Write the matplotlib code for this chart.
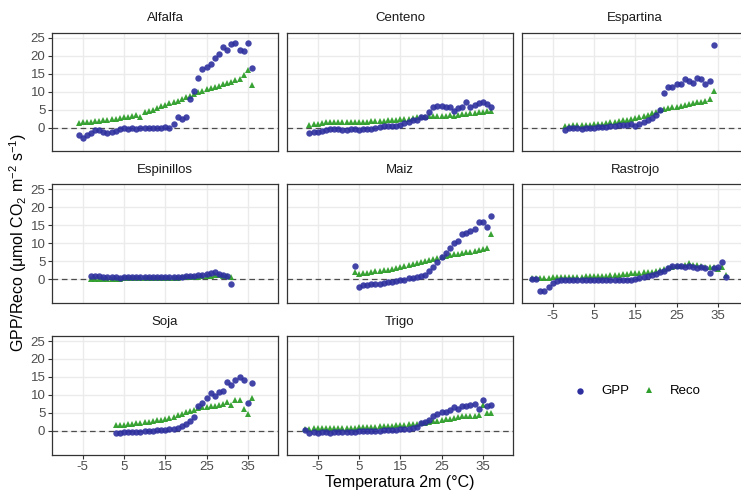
import matplotlib
matplotlib.use('Agg')
import matplotlib.pyplot as plt
from matplotlib.lines import Line2D

plt.rcParams['font.family'] = ['Liberation Sans', 'DejaVu Sans']
plt.rcParams['mathtext.fontset'] = 'custom'
plt.rcParams['mathtext.rm'] = 'Liberation Sans'
plt.rcParams['mathtext.it'] = 'Liberation Sans:italic'
plt.rcParams['axes.unicode_minus'] = False

# ---------------- data (temperature bins are integer degrees) ----------------
alfalfa_t0 = -6
alfalfa_gpp = [-2.1, -2.8, -2.1, -1.4, -0.7, -0.6, -1.2, -1.5, -1.2, -1.0, -0.5, 0.0, -0.3, -0.1, -0.3,
               0.0, 0.0, 0.0, 0.0, 0.0, 0.0, 0.1, 0.0, 0.9, 3.0, 2.3, 3.0, 7.9, 10.2, 13.8, 16.3, 16.9,
               17.6, 19.3, 20.4, 22.5, 21.6, 23.3, 23.4, 21.6, 21.3, 23.4, 16.7]
alfalfa_reco = [1.3, 1.4, 1.5, 1.6, 1.7, 1.8, 2.0, 2.1, 2.3, 2.4, 2.6, 2.8, 3.0, 3.2, 3.4, 2.9,
                4.2, 4.6, 5.0, 5.5, 5.9, 6.3, 6.7, 7.1, 7.5, 8.0, 8.5, 8.9, 9.4, 9.8, 10.2, 10.6,
                11.0, 11.3, 11.6, 12.0, 12.4, 12.7, 13.1, 13.5, 14.7, 16.0, 11.8]

centeno_t0 = -7
centeno_gpp = [-1.4, -1.3, -1.2, -1.0, -0.6, -0.5, -0.5,
               -0.5, -0.6, -0.6, -0.5, -0.5, -0.6, -0.5, -0.4, -0.3, -0.1,
               0.1, 0.3, 0.4, 0.3, 0.5, 0.7, 1.2, 1.6, 2.0, 2.2,
               2.8, 3.0, 4.2, 5.8, 6.0, 6.0, 5.8, 5.8, 4.7, 5.3,
               5.8, 7.2, 5.8, 6.2, 6.7, 7.0, 6.5, 5.8]
centeno_reco = [0.6, 0.9, 1.1, 1.3, 1.4, 1.5, 1.5,
                1.5, 1.5, 1.5, 1.5, 1.5, 1.6, 1.6, 1.6, 1.7, 1.7,
                1.8, 1.9, 2.0, 2.1, 2.2, 2.3, 2.4, 2.5, 2.7, 2.8,
                2.9, 3.0, 3.1, 3.1, 3.2, 3.3, 3.3, 3.4, 3.2, 3.6,
                3.7, 3.8, 3.9, 4.1, 4.2, 4.4, 4.5, 4.6]

espartina_t0 = -2
espartina_gpp = [-0.75, 0.0, 0.0, -0.1, -0.3, -0.1, 0.0, 0.0, 0.1, 0.1, 0.2, 0.3,
                 0.5, 0.65, 0.65, 0.75, 0.85, 0.5, 0.95, 1.4, 2.2, 2.7,
                 3.4, 5.0, 9.5, 11.3, 11.3, 12.2, 12.1, 13.4, 12.9, 12.4,
                 13.7, 13.4, 12.2, 12.9, 23.0]
espartina_reco = [0.5, 0.5, 0.6, 0.6, 0.7, 0.8, 0.8, 0.9, 1.0, 1.1, 1.2, 1.4,
                  1.6, 1.8, 2.0, 2.2, 2.4, 2.7, 3.0, 3.3, 3.6, 4.0,
                  4.4, 4.8, 5.1, 5.4, 5.6, 5.8, 6.0, 6.3, 6.5, 6.7,
                  7.0, 7.2, 7.4, 7.8, 10.2]

espinillos_t0 = -3
espinillos_gpp = [0.9, 0.8, 0.8, 0.6, 0.6, 0.5, 0.5, 0.4, 0.5, 0.5,
                  0.5, 0.6, 0.6, 0.6, 0.6, 0.7, 0.6, 0.7, 0.6, 0.7,
                  0.6, 0.7, 0.7, 0.8, 0.8, 1.0, 1.1, 1.3, 1.4, 1.6,
                  1.9, 1.4, 1.2, 1.0, -1.2]
espinillos_reco = [0.0, 0.1, 0.1, 0.1, 0.1, 0.1, 0.1, 0.1, 0.2, 0.2,
                   0.2, 0.2, 0.2, 0.3, 0.3, 0.3, 0.3, 0.3, 0.4, 0.4,
                   0.4, 0.4, 0.5, 0.5, 0.6, 0.6, 0.7, 0.8, 0.9, 1.0,
                   1.2, 1.1, 0.9, 1.0, 0.5]

maiz_t0 = 4
maiz_gpp = [3.7, -2.1, -1.7, -1.5, -1.4, -1.3, -1.2, -1.0, -0.9, -0.7,
            -0.5, -0.3, -0.1, 0.2, 0.4, 0.6, 1.0, 1.2, 2.3, 3.3,
            4.8, 6.2, 7.4, 8.6, 10.0, 10.7, 12.6, 13.0, 13.5, 13.9,
            16.0, 15.8, 14.6, 17.7]
maiz_reco = [1.9, 1.4, 1.6, 1.8, 2.0, 2.2, 2.4, 2.5, 2.7, 2.9,
             3.1, 3.3, 3.6, 3.9, 4.2, 4.5, 4.8, 5.1, 5.4, 5.7,
             6.0, 6.3, 6.5, 6.7, 6.9, 7.1, 7.3, 7.5, 7.7, 7.9,
             8.2, 8.4, 8.6, 12.6]

rastrojo_t0 = -10
rastrojo_gpp = [0.0, 0.0, -3.2, -3.2, -2.2, -1.1, -0.4, -0.2, -0.2, -0.2,
                -0.2, -0.2, -0.2, -0.2, -0.2, -0.2, -0.1, -0.1, -0.1, -0.1,
                -0.1, -0.1, -0.1, -0.2, -0.1, 0.1, 0.3, 0.6, 0.9, 1.2,
                1.5, 1.9, 2.4, 3.1, 3.7, 3.7, 3.7, 3.3, 3.7, 3.5,
                3.2, 3.5, 3.1, 1.7, 3.1, 3.3, 4.7, 0.7]
rastrojo_reco = [0.3, 0.3, 0.2, 0.3, 0.4, 0.5, 0.5, 0.6, 0.6, 0.6,
                 0.7, 0.7, 0.7, 0.8, 0.8, 0.8, 0.9, 0.9, 1.0, 1.1,
                 1.2, 1.3, 1.4, 1.5, 1.6, 1.7, 1.8, 1.9, 2.0, 2.1,
                 2.3, 2.5, 2.8, 3.2, 3.5, 3.6, 3.7, 4.0, 4.6, 4.0,
                 3.9, 3.7, 3.5, 3.4, 3.3, 2.9, 3.3, 1.2]

soja_t0 = 3
soja_gpp = [-0.7, -0.6, -0.4, -0.4, -0.3, -0.2, -0.2, -0.1, 0.0, 0.0,
            0.1, 0.2, 0.3, 0.4, 0.6, 0.9, 1.3, 1.9, 2.8, 3.9,
            6.9, 7.8, 9.2, 10.4, 9.7, 10.9, 11.1, 13.7, 12.7, 14.1,
            15.1, 14.1, 7.8, 13.2]
soja_reco = [1.5, 1.6, 1.7, 1.8, 2.0, 2.1, 2.2, 2.4, 2.5, 2.7,
             2.9, 3.1, 3.3, 3.6, 3.9, 4.3, 4.7, 5.1, 5.5, 5.9,
             6.3, 6.6, 6.7, 6.8, 6.9, 7.2, 7.6, 8.1, 7.2, 8.7,
             8.5, 6.2, 4.6, 9.0]

trigo_t0 = -8
trigo_gpp = [0.2, -0.7, -0.4, -0.7, -0.4, -0.4, -0.5, -0.3, -0.3, -0.3,
             -0.2, -0.2, -0.2, -0.1, -0.1, -0.1, 0.0, 0.0, 0.0, 0.1,
             0.1, 0.2, 0.2, 0.4, 0.5, 0.6, 0.8, 1.1, 2.1, 2.5,
             3.0, 4.2, 4.7, 5.1, 5.3, 5.8, 6.5, 6.2, 7.0, 6.8,
             7.2, 7.6, 6.2, 8.7, 7.0, 7.2]
trigo_reco = [0.6, 0.6, 0.7, 0.7, 0.7, 0.7, 0.8, 0.8, 0.8, 0.8,
              0.9, 0.9, 0.9, 1.0, 1.0, 1.0, 1.1, 1.1, 1.2, 1.2,
              1.3, 1.4, 1.5, 1.6, 1.7, 1.8, 1.9, 2.0, 2.2, 2.3,
              2.5, 2.7, 2.8, 3.0, 3.2, 3.4, 3.6, 3.8, 4.0, 4.1,
              4.1, 4.2, 4.3, 7.3, 4.9, 4.9]

panel_names = ['Alfalfa', 'Centeno', 'Espartina', 'Espinillos', 'Maiz', 'Rastrojo', 'Soja', 'Trigo']
panel_t0 = [alfalfa_t0, centeno_t0, espartina_t0, espinillos_t0, maiz_t0, rastrojo_t0, soja_t0, trigo_t0]
panel_gpp = [alfalfa_gpp, centeno_gpp, espartina_gpp, espinillos_gpp, maiz_gpp, rastrojo_gpp, soja_gpp, trigo_gpp]
panel_reco = [alfalfa_reco, centeno_reco, espartina_reco, espinillos_reco, maiz_reco, rastrojo_reco, soja_reco, trigo_reco]

x_ticks = [-5, 5, 15, 25, 35]
y_ticks = [0, 5, 10, 15, 20, 25]

# ---------------- layout ----------------
W, H = 741, 491
fig = plt.figure(figsize=(W / 100, H / 100), dpi=100)

col_left = [52.3, 287.3, 522.3]
row_top = [32.7, 184.4, 336.0]
pw, ph = 225.3, 118.5

GPP_COL = '#2D2F9E'
RECO_COL = '#2E9E2A'
TXT = '#4D4D4D'

def rect(left, top, w, h):
    return [left / W, 1 - (top + h) / H, w / W, h / H]

bottom_panels = {5, 6, 7}

for i, name in enumerate(panel_names):
    r, c = divmod(i, 3)
    ax = fig.add_axes(rect(col_left[c], row_top[r], pw, ph))
    ax.set_xlim(-12.35, 42.2)
    ax.set_ylim(-6.6, 26.4)
    ax.set_xticks(x_ticks)
    ax.set_yticks(y_ticks)
    ax.grid(True, color='#EBEBEB', linewidth=1.0)
    ax.set_axisbelow(True)
    for s in ax.spines.values():
        s.set_color('#333333')
        s.set_linewidth(0.9)
    ax.axhline(0, color='#4D4D4D', linestyle=(0, (4.5, 3)), linewidth=0.9, zorder=1.5)
    temps = list(range(panel_t0[i], panel_t0[i] + len(panel_gpp[i])))
    ax.plot(temps, panel_reco[i], linestyle='none', marker='^', markersize=4.9,
            color=RECO_COL, markeredgewidth=0, alpha=0.95, zorder=3)
    ax.plot(temps, panel_gpp[i], linestyle='none', marker='o', markersize=4.6,
            color=GPP_COL, markeredgewidth=0, alpha=0.9, zorder=4)
    ax.tick_params(axis='both', colors='#333333', labelcolor=TXT, labelsize=9.5,
                   length=3, width=0.8, pad=2)
    if c != 0:
        ax.tick_params(axis='y', left=False, labelleft=False)
    if i not in bottom_panels:
        ax.tick_params(axis='x', bottom=False, labelbottom=False)
    cx = col_left[c] + pw / 2
    fig.text(cx / W, 1 - (row_top[r] - 14.5) / H, name, ha='center', va='center',
             fontsize=9.5, color='#1A1A1A')

# axis titles
fig.text(400 / W, 1 - 483 / H, 'Temperatura 2m (°C)', ha='center', va='center', fontsize=11.5, color='black')
fig.text(18 / W, 1 - 243 / H, r'GPP/Reco (μmol CO$_2$ m$^{-2}$ s$^{-1}$)', ha='center', va='center',
         rotation=90, fontsize=11.5, color='black')

# legend
leg_y = 1 - 391 / H
fig.add_artist(Line2D([580 / W], [leg_y], marker='o', markersize=4.6, color=GPP_COL,
                      markeredgewidth=0, linestyle='none', transform=fig.transFigure))
fig.text(601 / W, leg_y, 'GPP', ha='left', va='center', fontsize=9.5, color='black')
fig.add_artist(Line2D([649 / W], [leg_y + 1 / H], marker='^', markersize=4.9, color=RECO_COL,
                      markeredgewidth=0, linestyle='none', transform=fig.transFigure))
fig.text(670 / W, leg_y, 'Reco', ha='left', va='center', fontsize=9.5, color='black')

fig.savefig('out.png', dpi=100, facecolor='white')
